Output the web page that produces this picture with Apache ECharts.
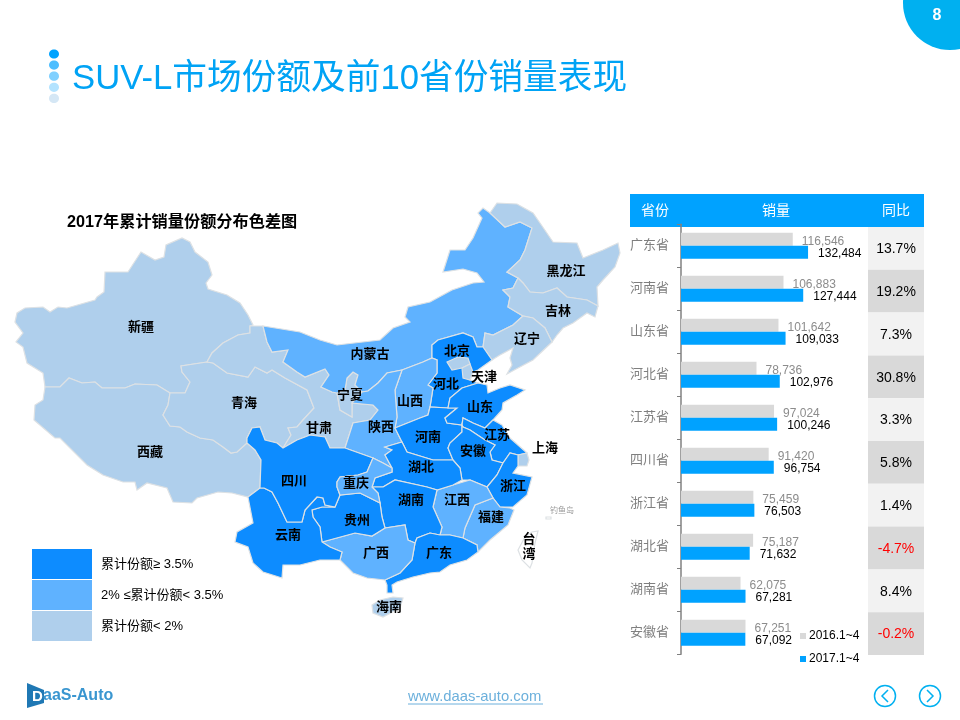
<!DOCTYPE html>
<html>
<head>
<meta charset="utf-8">
<title>SUV-L</title>
<script src="https://cdn.jsdelivr.net/npm/echarts@6/dist/echarts.min.js"></script>
<style>
html, body { margin: 0; padding: 0; background: #fff; }
#main { width: 960px; height: 720px; }
</style>
</head>
<body>
<div id="main"></div>
<script>
var FONT = '"Liberation Sans", "Noto Sans CJK SC", sans-serif';

// right hand table
var provinces = ['广东省', '河南省', '山东省', '河北省', '江苏省', '四川省', '浙江省', '湖北省', '湖南省', '安徽省'];
var sales2016 = [116546, 106883, 101642, 78736, 97024, 91420, 75459, 75187, 62075, 67251];
var sales2017 = [132484, 127444, 109033, 102976, 100246, 96754, 76503, 71632, 67281, 67092];
var yoyPct = [13.7, 19.2, 7.3, 30.8, 3.3, 5.8, 1.4, -4.7, 8.4, -0.2];
var tableHeads = ['省份', '销量', '同比'];

// map tiers
var highShare = ['广东', '河南', '山东', '河北', '江苏', '四川', '浙江', '湖北', '湖南', '安徽', '云南', '贵州'];
var midShare = ['内蒙古', '山西', '陕西', '重庆', '江西', '福建', '广西'];
var lowShare = ['新疆', '西藏', '青海', '甘肃', '宁夏', '黑龙江', '吉林', '辽宁', '北京', '天津', '上海', '海南'];
var tierLabels = ['累计份额≥ 3.5%', '2% ≤累计份额< 3.5%', '累计份额< 2%'];

// province outlines, in page pixels
var outlines = {
  '新疆': [[15,322],[17,313],[25,308],[43,307],[50,312],[58,307],[67,308],[95,300],[97,297],[104,292],[105,272],[128,272],[141,252],[155,260],[164,257],[166,245],[182,238],[190,242],[195,252],[208,262],[212,275],[206,283],[208,289],[227,295],[240,303],[248,315],[253,325],[250,326],[250,333],[238,335],[223,343],[212,353],[207,362],[181,366],[182,372],[190,382],[185,393],[170,393],[157,385],[135,384],[125,388],[102,388],[95,382],[82,383],[69,378],[60,387],[45,387],[43,373],[27,363],[23,347],[16,342],[23,333]],
  '西藏': [[45,387],[60,387],[69,378],[82,383],[95,382],[102,388],[125,388],[135,384],[157,385],[170,393],[168,405],[163,415],[170,426],[180,427],[187,432],[200,438],[213,440],[223,447],[231,453],[237,452],[247,443],[255,450],[261,460],[260,488],[248,497],[232,493],[218,492],[197,498],[192,503],[173,502],[167,488],[147,483],[137,490],[135,482],[123,482],[103,475],[87,465],[60,438],[55,438],[34,420],[35,405],[43,400]],
  '青海': [[207,362],[213,363],[227,373],[248,377],[255,367],[267,373],[272,370],[285,378],[307,390],[312,403],[314,408],[303,420],[297,427],[288,428],[291,435],[283,448],[277,443],[265,440],[260,427],[252,428],[247,438],[247,443],[237,452],[231,453],[223,447],[213,440],[200,438],[187,432],[180,427],[170,426],[163,415],[168,405],[170,393],[185,393],[190,382],[182,372],[181,366]],
  '甘肃': [[250,326],[263,326],[267,342],[272,352],[288,350],[283,362],[297,372],[305,377],[325,369],[329,375],[321,387],[332,392],[337,393],[340,410],[352,417],[352,403],[373,405],[378,410],[370,420],[353,423],[345,448],[330,448],[325,437],[310,435],[305,437],[297,440],[283,448],[291,435],[288,428],[297,427],[303,420],[314,408],[312,403],[307,390],[285,378],[272,370],[267,373],[255,367],[248,377],[227,373],[213,363],[207,362],[212,353],[223,343],[238,335],[250,333]],
  '宁夏': [[353,372],[358,375],[355,385],[362,392],[352,403],[352,417],[340,410],[337,393],[345,390],[347,378]],
  '内蒙古': [[263,326],[300,332],[320,340],[337,345],[380,340],[393,328],[410,322],[405,317],[408,307],[430,302],[452,290],[473,283],[484,282],[477,273],[463,269],[443,272],[450,250],[465,250],[473,238],[482,218],[478,213],[483,208],[490,213],[505,227],[520,222],[532,228],[525,250],[520,260],[507,272],[518,278],[513,288],[503,290],[510,297],[508,307],[523,316],[513,325],[493,335],[485,333],[483,347],[477,347],[473,337],[463,333],[438,340],[432,345],[432,358],[423,362],[402,370],[387,373],[378,383],[368,391],[362,392],[355,385],[358,375],[353,372],[347,378],[345,390],[337,393],[332,392],[321,387],[329,375],[325,369],[305,377],[297,372],[283,362],[288,350],[272,352],[267,342]],
  '黑龙江': [[490,213],[497,203],[517,204],[533,213],[540,223],[553,242],[577,243],[583,258],[603,250],[618,243],[620,253],[615,267],[603,280],[597,287],[598,306],[587,300],[567,297],[557,288],[543,293],[530,292],[523,283],[518,278],[507,272],[520,260],[525,250],[532,228],[520,222],[505,227]],
  '吉林': [[513,288],[518,278],[523,283],[530,292],[543,293],[557,288],[567,297],[587,300],[598,306],[595,317],[587,313],[573,323],[563,328],[557,335],[552,342],[545,328],[533,318],[523,316],[508,307],[510,297],[503,290]],
  '辽宁': [[485,333],[493,335],[513,325],[523,316],[533,318],[545,328],[552,342],[533,360],[518,368],[507,374],[512,365],[510,358],[513,348],[500,355],[492,360],[483,347]],
  '河北': [[432,345],[438,340],[463,333],[473,337],[477,347],[483,347],[492,360],[478,370],[473,372],[470,380],[478,383],[462,388],[450,398],[448,408],[430,407],[433,388],[428,385],[437,373],[437,360],[432,358]],
  '北京': [[447,362],[458,357],[468,358],[470,364],[462,368],[452,370]],
  '天津': [[462,368],[470,364],[473,372],[470,380],[463,378]],
  '山西': [[402,370],[423,362],[432,358],[437,360],[437,373],[428,385],[433,388],[430,407],[428,415],[420,418],[395,428],[397,417],[395,390]],
  '陕西': [[362,392],[368,391],[378,383],[387,373],[402,370],[395,390],[397,417],[395,428],[402,442],[385,447],[392,450],[385,455],[392,468],[383,463],[373,458],[345,448],[353,423],[370,420],[378,410],[373,405],[352,403]],
  '河南': [[395,428],[420,418],[428,415],[430,407],[448,408],[457,408],[445,418],[447,423],[462,425],[462,432],[450,443],[448,448],[453,460],[433,460],[407,452],[402,442]],
  '山东': [[462,388],[478,383],[487,385],[488,393],[500,388],[510,385],[525,390],[517,395],[503,403],[502,410],[493,420],[485,428],[473,423],[463,418],[462,425],[447,423],[445,418],[457,408],[448,408],[450,398]],
  '江苏': [[462,425],[463,418],[473,423],[485,428],[493,420],[502,425],[510,438],[527,453],[518,455],[510,453],[503,463],[492,460],[490,452],[495,445],[485,440],[470,430],[463,427]],
  '上海': [[518,455],[527,453],[529,460],[527,466],[518,466]],
  '安徽': [[463,427],[470,430],[485,440],[495,445],[490,452],[492,460],[503,463],[497,475],[487,487],[470,480],[462,480],[460,468],[453,460],[448,448],[450,443],[462,432],[462,425]],
  '浙江': [[503,463],[510,453],[518,455],[518,466],[513,473],[532,477],[527,495],[513,507],[500,507],[493,498],[487,487],[497,475]],
  '福建': [[493,498],[500,507],[510,508],[514,510],[508,525],[490,540],[478,552],[477,545],[463,538],[465,528],[475,505]],
  '江西': [[437,490],[453,485],[470,480],[487,487],[493,498],[475,505],[465,528],[463,538],[450,535],[440,535],[442,527],[433,507]],
  '湖北': [[402,442],[407,452],[433,460],[453,460],[460,468],[462,480],[453,485],[437,490],[427,487],[395,480],[383,487],[372,487],[375,478],[392,472],[392,468],[385,455],[392,450],[385,447]],
  '湖南': [[383,487],[395,480],[427,487],[437,490],[433,507],[442,527],[440,535],[430,533],[417,538],[415,543],[408,540],[405,525],[385,528],[382,517],[380,503],[378,493],[372,487]],
  '广东': [[415,543],[417,538],[430,533],[440,535],[450,535],[463,538],[477,545],[478,552],[467,560],[450,565],[440,572],[430,573],[413,577],[397,582],[392,585],[393,593],[387,593],[387,585],[385,580],[400,573],[412,560]],
  '广西': [[322,542],[355,533],[372,536],[385,528],[405,525],[408,540],[415,543],[412,560],[400,573],[385,580],[367,578],[353,573],[340,560],[342,552],[330,547]],
  '贵州': [[312,510],[322,507],[335,507],[340,495],[360,493],[370,498],[380,503],[382,517],[385,528],[372,536],[355,533],[322,542],[320,527],[313,517]],
  '云南': [[248,497],[260,488],[264,488],[272,492],[278,503],[287,522],[302,522],[305,510],[317,497],[323,498],[325,505],[335,507],[322,507],[312,510],[313,517],[320,527],[322,542],[330,547],[342,552],[340,560],[320,560],[300,565],[283,565],[282,578],[263,572],[253,563],[248,547],[235,542],[237,532],[253,523]],
  '四川': [[252,428],[260,427],[265,440],[277,443],[283,448],[297,440],[305,437],[310,435],[325,437],[330,448],[345,448],[373,458],[367,472],[358,475],[340,477],[337,482],[337,487],[340,495],[335,507],[325,505],[323,498],[317,497],[305,510],[302,522],[287,522],[278,503],[272,492],[264,488],[260,488],[261,460],[255,450],[247,443],[247,438]],
  '重庆': [[373,458],[383,463],[392,468],[392,472],[375,478],[372,487],[378,493],[380,503],[370,498],[360,493],[340,495],[337,487],[337,482],[340,477],[358,475],[367,472]],
  '海南': [[372,605],[380,600],[393,597],[403,598],[400,608],[383,617],[373,613]],
  '台湾': [[538,531],[535,543],[532,563],[530,568],[522,560],[518,550],[525,537],[532,532]],
  '钓鱼岛': [[546,517],[551,517],[551,519],[546,519]]
};

var labelAnchors = {
  '新疆': [141,327], '青海': [244,403], '西藏': [150,452], '甘肃': [319,428], '内蒙古': [370,354], '宁夏': [350,395],
  '陕西': [381,427], '山西': [410,401], '河北': [446,384], '北京': [457,351], '天津': [484,377], '山东': [480,407],
  '河南': [428,437], '江苏': [497,435], '安徽': [473,451], '上海': [545,448], '湖北': [421,467], '四川': [294,481],
  '重庆': [356,483], '湖南': [411,500], '江西': [457,500], '浙江': [513,486], '福建': [491,517], '贵州': [357,520],
  '云南': [288,535], '广西': [376,553], '广东': [439,553], '海南': [389,607], '台湾': [529,547], '黑龙江': [566,271],
  '吉林': [558,311], '辽宁': [527,339]
};

var features = [];
var minX = 1e9, minY = 1e9, maxX = -1e9, maxY = -1e9;
Object.keys(outlines).forEach(function (name) {
  var ring = outlines[name];
  ring.forEach(function (p) {
    minX = Math.min(minX, p[0]); maxX = Math.max(maxX, p[0]);
    minY = Math.min(minY, p[1]); maxY = Math.max(maxY, p[1]);
  });
  features.push({
    type: 'Feature',
    properties: { name: name, cp: labelAnchors[name] || ring[0] },
    geometry: { type: 'Polygon', coordinates: [ring.concat([ring[0]])] }
  });
});
echarts.registerMap('cnSketch', { type: 'FeatureCollection', features: features });

var mapData = [];
highShare.forEach(function (n) { mapData.push({ name: n, value: 3 }); });
midShare.forEach(function (n) { mapData.push({ name: n, value: 2 }); });
lowShare.forEach(function (n) { mapData.push({ name: n, value: 1 }); });

var headX = [655, 776, 896];
var titleDots = ['#00A3FF', '#4DBEFF', '#80D0FF', '#B3E3FF', '#D5E7F5'];
var graphics = [
  { type: 'circle', silent: true, shape: { cx: 950, cy: 3, r: 47 }, style: { fill: '#00B0F0' } },
  { type: 'text', silent: true, style: { x: 937, y: 16, text: '8', fill: '#fff', font: 'bold 16px ' + FONT, align: 'center', verticalAlign: 'middle' } },
  { type: 'text', silent: true, style: { x: 72, y: 79, text: 'SUV-L市场份额及前10省份销量表现', fill: '#00A3F5', font: '34.7px ' + FONT, verticalAlign: 'middle' } },
  { type: 'text', silent: true, style: { x: 67, y: 223, text: '2017年累计销量份额分布色差图', fill: '#000', font: 'bold 16.2px ' + FONT, verticalAlign: 'middle' } },
  { type: 'text', silent: true, style: { x: 562, y: 511, text: '钓鱼岛', fill: '#999', font: '8px ' + FONT, align: 'center', verticalAlign: 'middle' } },
  { type: 'rect', silent: true, shape: { x: 630, y: 194, width: 294, height: 33 }, style: { fill: '#00A2FF' } },
  // footer
  { type: 'text', silent: true, style: { x: 408, y: 697, text: 'www.daas-auto.com', fill: '#6CB0DC', font: '14.8px ' + FONT, verticalAlign: 'middle' } },
  { type: 'line', silent: true, shape: { x1: 408, y1: 704, x2: 543, y2: 704 }, style: { stroke: '#6CB0DC', lineWidth: 1 } },
  { type: 'circle', silent: true, shape: { cx: 885, cy: 696, r: 10.5 }, style: { fill: 'none', stroke: '#00B0F0', lineWidth: 1.5 } },
  { type: 'polyline', silent: true, shape: { points: [[888, 690], [882, 696], [888, 702]] }, style: { fill: 'none', stroke: '#00B0F0', lineWidth: 1.5 } },
  { type: 'circle', silent: true, shape: { cx: 930, cy: 696, r: 10.5 }, style: { fill: 'none', stroke: '#00B0F0', lineWidth: 1.5 } },
  { type: 'polyline', silent: true, shape: { points: [[927, 690], [933, 696], [927, 702]] }, style: { fill: 'none', stroke: '#00B0F0', lineWidth: 1.5 } },
  // logo
  { type: 'polygon', silent: true, shape: { points: [[27, 683], [44, 690], [44, 703], [27, 708]] }, style: { fill: '#1F78B4' } },
  { type: 'text', silent: true, style: { x: 32, y: 697, text: 'D', fill: '#fff', font: 'bold 15px ' + FONT, verticalAlign: 'middle' } },
  { type: 'text', silent: true, style: { x: 43, y: 696, text: 'aaS-Auto', fill: '#3A96D0', font: 'bold 16px ' + FONT, verticalAlign: 'middle' } }
];
titleDots.forEach(function (c, i) {
  graphics.push({ type: 'ellipse', silent: true, shape: { cx: 54, cy: 54 + i * 11.1, rx: 5, ry: 4.6 }, style: { fill: c } });
});
tableHeads.forEach(function (t, i) {
  graphics.push({ type: 'text', silent: true, z: 10, style: { x: headX[i], y: 211, text: t, fill: '#fff', font: '14px ' + FONT, align: 'center', verticalAlign: 'middle' } });
});

var myChart = echarts.init(document.getElementById('main'));

var option = {
  animation: false,
  backgroundColor: '#fff',
  textStyle: { fontFamily: FONT },
  graphic: graphics,
  grid: [
    { left: 681, top: 224.3, width: 143.85, height: 430 },
    { left: 868, top: 227, width: 56, height: 428 }
  ],
  xAxis: [
    { type: 'value', min: 0, max: 150000, show: false },
    { type: 'value', min: 0, max: 1, show: false, gridIndex: 1 }
  ],
  yAxis: [
    {
      type: 'category',
      data: provinces,
      inverse: true,
      axisLine: { show: true, lineStyle: { color: '#808080', width: 1.5 } },
      axisTick: { show: true, length: 4, lineStyle: { color: '#808080' } },
      axisLabel: { color: '#7F7F7F', fontSize: 13, margin: 12, fontFamily: FONT }
    },
    { type: 'category', data: provinces, inverse: true, show: false, gridIndex: 1 }
  ],
  legend: {
    data: ['2016.1~4', '2017.1~4'],
    orient: 'vertical',
    left: 800,
    top: 630,
    padding: 0,
    itemWidth: 6,
    itemHeight: 6,
    itemGap: 11,
    icon: 'rect',
    selectedMode: false,
    textStyle: { color: '#000', fontSize: 12, fontFamily: FONT, padding: [0, 0, 0, -2] }
  },
  visualMap: {
    type: 'piecewise',
    seriesIndex: 0,
    left: 32,
    top: 549,
    padding: 0,
    orient: 'vertical',
    align: 'left',
    itemWidth: 60,
    itemHeight: 30,
    itemGap: 1,
    textGap: 9,
    itemSymbol: 'rect',
    selectedMode: false,
    hoverLink: false,
    textStyle: { color: '#000', fontSize: 13, fontFamily: FONT },
    pieces: [
      { value: 3, label: tierLabels[0], color: '#0D8CFF' },
      { value: 2, label: tierLabels[1], color: '#5FB2FF' },
      { value: 1, label: tierLabels[2], color: '#AFCFEC' }
    ]
  },
  series: [
    {
      type: 'map',
      map: 'cnSketch',
      silent: true,
      showLegendSymbol: false,
      projection: {
        project: function (p) { return p; },
        unproject: function (p) { return p; }
      },
      left: minX,
      top: minY,
      width: maxX - minX,
      height: maxY - minY,
      data: mapData,
      itemStyle: { areaColor: '#fff', borderColor: '#DDE1E4', borderWidth: 1.2 },
      label: {
        show: true,
        color: '#000',
        fontSize: 13,
        fontWeight: 'bold',
        fontFamily: FONT,
        lineHeight: 15,
        formatter: function (p) {
          if (p.name === '钓鱼岛') return '';
          return p.name === '台湾' ? '台\n湾' : p.name;
        }
      }
    },
    {
      name: '2016.1~4',
      type: 'bar',
      silent: true,
      data: sales2016,
      barWidth: 13,
      barGap: '0%',
      itemStyle: { color: '#D9D9D9' },
      label: {
        show: true,
        position: 'right',
        distance: 9,
        offset: [0, 2],
        color: '#8C8C8C',
        fontSize: 12,
        fontFamily: FONT,
        formatter: function (p) { return p.value.toLocaleString('en-US'); }
      }
    },
    {
      name: '2017.1~4',
      type: 'bar',
      silent: true,
      data: sales2017,
      barWidth: 13,
      itemStyle: { color: '#00A2FF' },
      z: 3,
      label: {
        show: true,
        position: 'right',
        distance: 10,
        offset: [0, 1],
        color: '#000',
        fontSize: 12,
        fontFamily: FONT,
        formatter: function (p) { return p.value.toLocaleString('en-US'); }
      }
    },
    {
      // 同比 column, one full width cell per province
      type: 'bar',
      silent: true,
      xAxisIndex: 1,
      yAxisIndex: 1,
      barWidth: '100%',
      data: yoyPct.map(function (v, i) {
        return {
          value: 1,
          itemStyle: { color: i % 2 ? '#D9D9D9' : '#F2F2F2' },
          label: { color: v < 0 ? '#FF0000' : '#000' }
        };
      }),
      label: {
        show: true,
        position: 'inside',
        offset: [0, 1],
        fontSize: 14,
        fontFamily: FONT,
        formatter: function (p) { return yoyPct[p.dataIndex].toFixed(1) + '%'; }
      }
    }
  ]
};
myChart.setOption(option);
</script>
</body>
</html>
